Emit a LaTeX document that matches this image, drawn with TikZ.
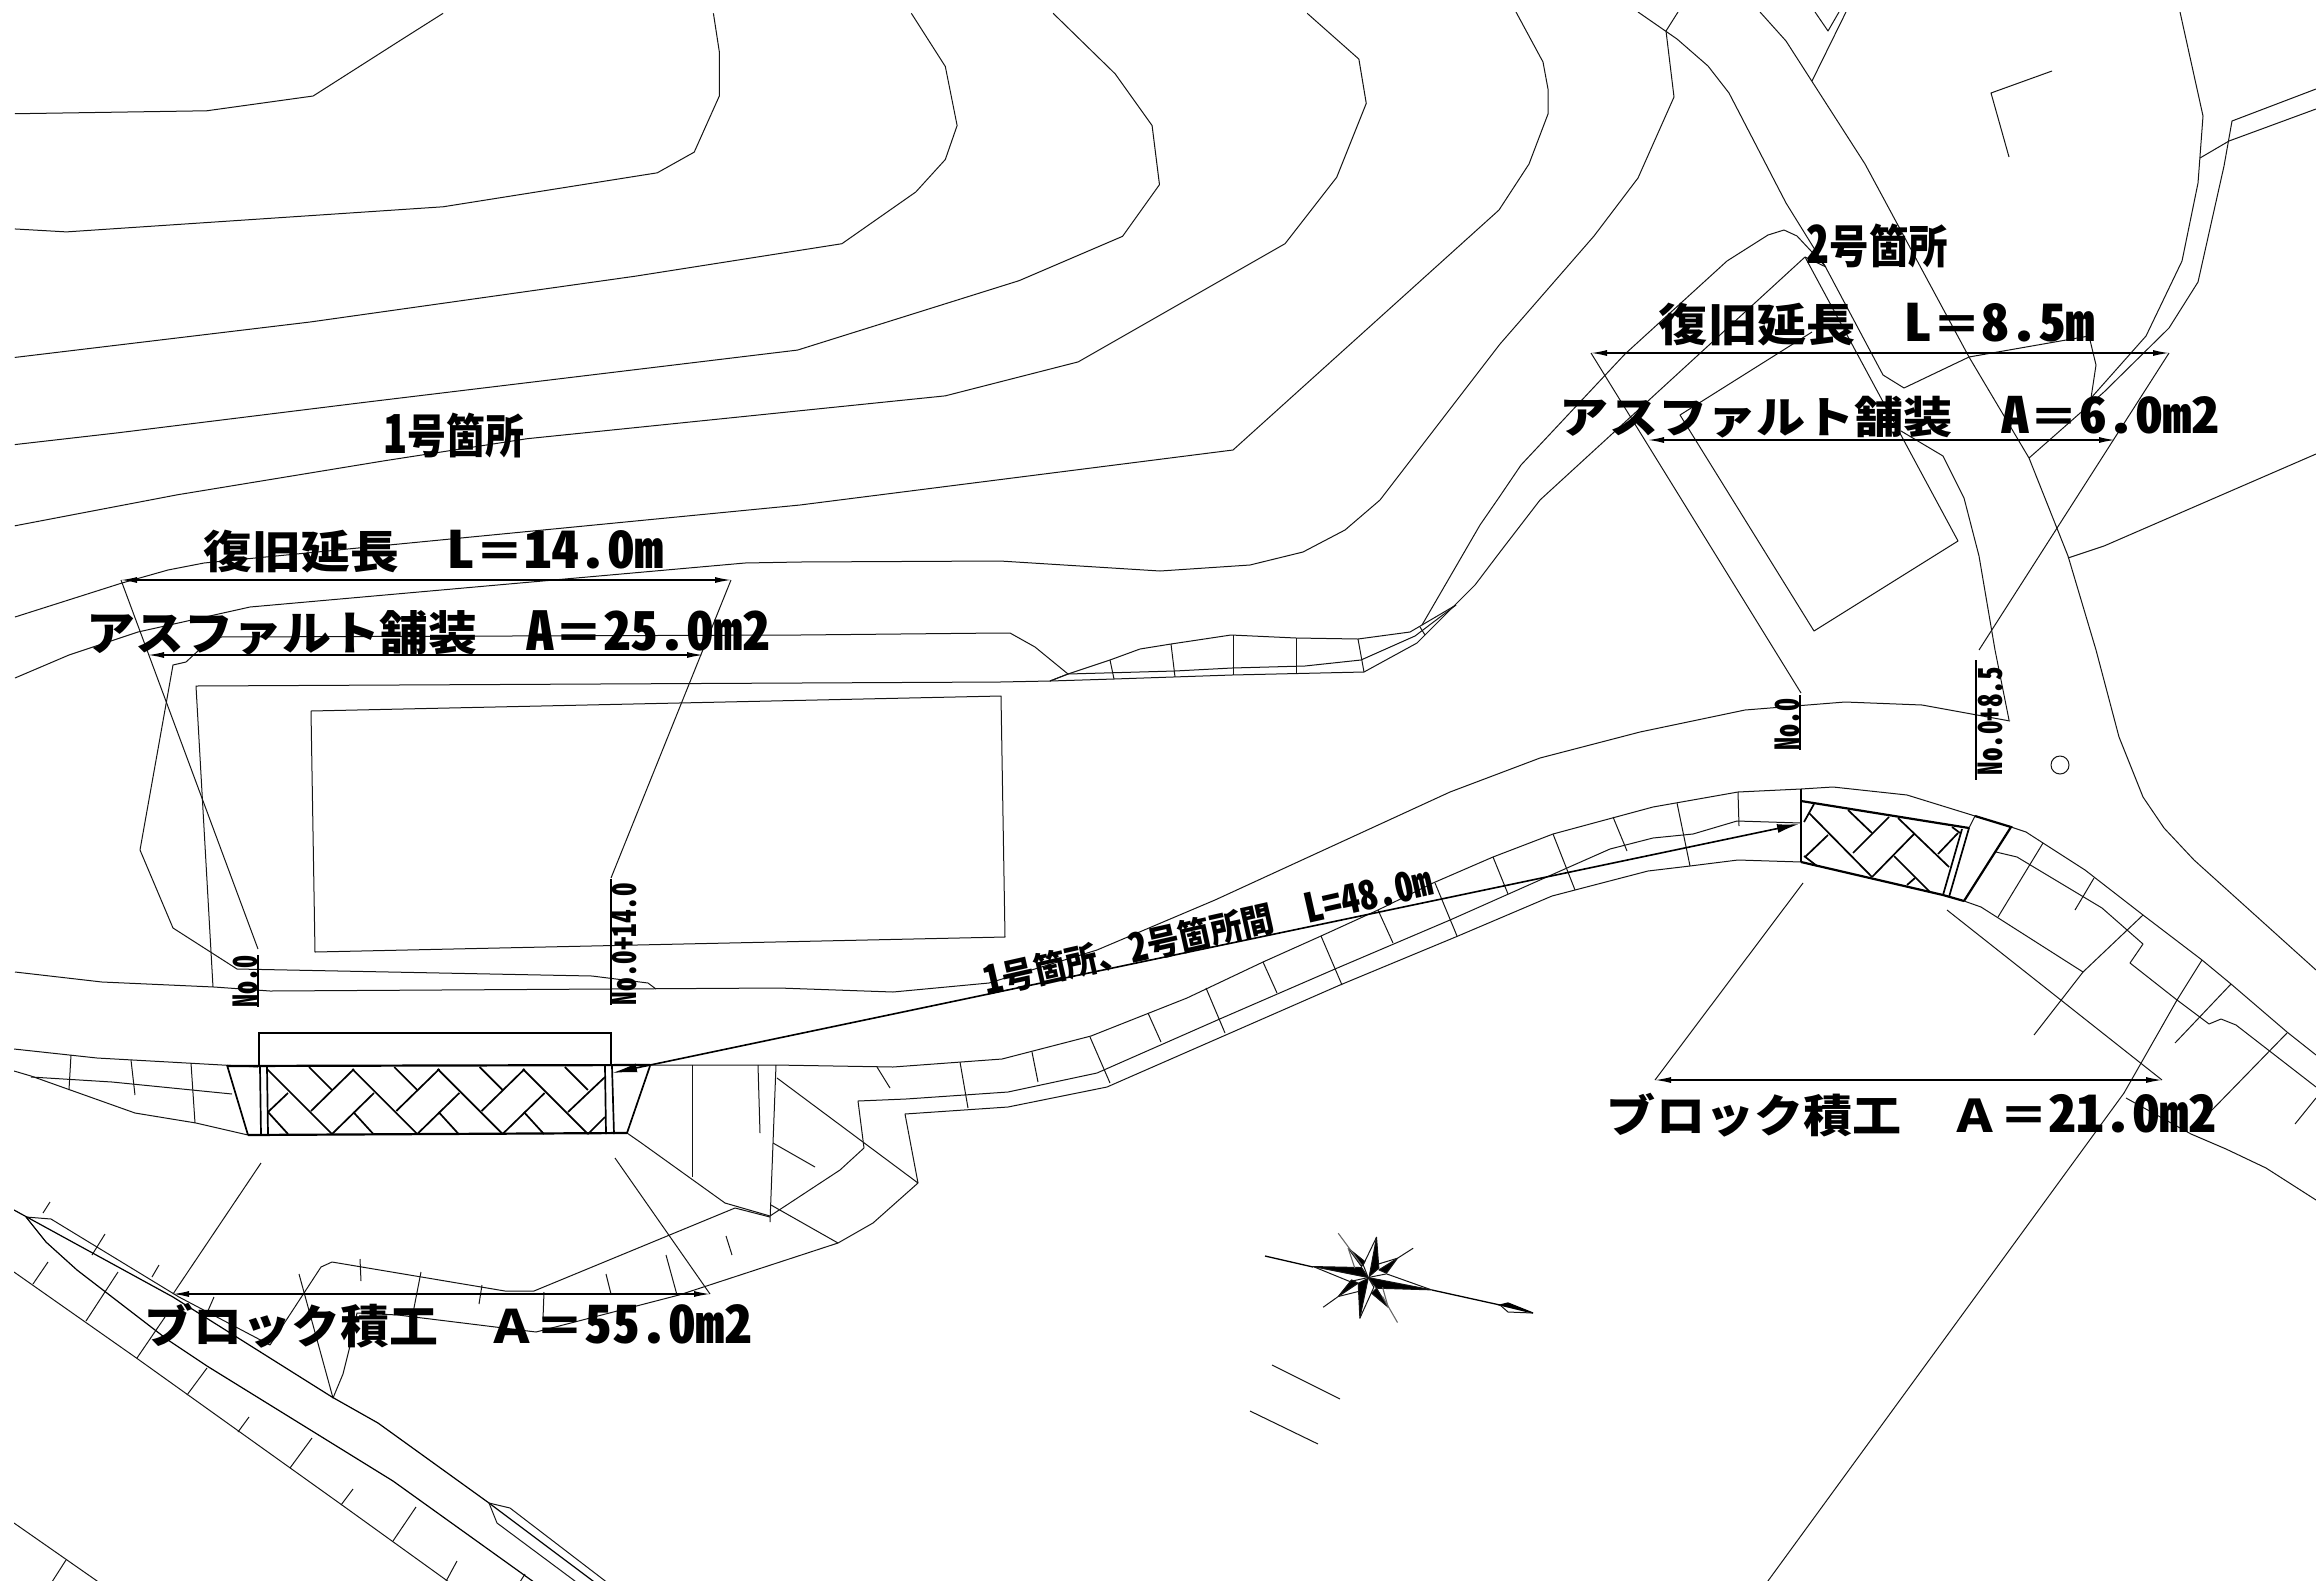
\documentclass[tikz,border=0pt]{standalone}
\usepackage{fontspec}
\usetikzlibrary{arrows.meta}
\newfontfamily\jp{Noto Sans CJK JP}[RawFeature={+hwid},Scale=1.14]
\newfontfamily\jpf{Noto Sans CJK JP}
\newcommand{\fit}[3]{\resizebox*{#1pt}{#2pt}{\bfseries #3}}
\newcommand{\fw}[1]{{\jpf\bfseries #1}}
\newcommand{\hw}[1]{{\jp\bfseries #1}}
\tikzset{
  ln/.style={line width=1pt,black!92,line join=round},
  hv/.style={line width=2.2pt,black,line join=miter},
  md/.style={line width=1.3pt,black},
  ht/.style={line width=1.7pt,black},
  dm/.style={line width=1.3pt,black,{Latex[length=16pt,width=6pt]}-{Latex[length=16pt,width=6pt]}},
  lb/.style={inner sep=0pt,outer sep=0pt,text=black},
  disp/.style={x=1.47704pt,y=-1.47704pt}
}
\begin{document}
\begin{tikzpicture}[x=1pt,y=-1pt]
\useasboundingbox (0,0) rectangle (2316,1585);
\fill[white] (0,0) rectangle (2316,1585);
\begin{scope}
\clip (14,12) rectangle (2316,1580);
% contours (display coordinates)
\begin{scope}[disp]
\draw[ln] (10,77)--(140,75)--(212,65)--(270,28)--(300,9);
\draw[ln] (10,155)--(45,157)--(150,150)--(300,140)--(445,117)--(470,103)--(487,65)--(487,35)--(483,9);
\draw[ln] (10,242)--(210,218)--(430,187)--(570,165)--(620,130)--(640,108)--(648,85)--(640,45)--(617,9);
\draw[ln] (10,301)--(80,293)--(250,272)--(540,237)--(690,190)--(760,160)--(785,125)--(780,85)--(755,50)--(713,9);
\draw[ln] (10,356)--(120,335)--(260,312)--(357,297)--(640,268)--(730,245)--(870,165)--(905,120)--(925,70)--(920,40)--(885,9);
\end{scope}
\draw[ln] (15,617)--(122,583)--(168,570)--(204,563)--(800,505)--(1233,450)--(1499,210)--(1529,164)--(1548,114)--(1548,89)--(1543,62)--(1516,12);
\draw[ln] (15,678)--(69,655)--(138,632)--(250,607)--(745,563)--(800,562)--(1000,561)--(1160,571)--(1250,565)--(1303,552)--(1345,530)--(1380,500)--(1500,344)--(1594,236)--(1638,178)--(1674,97)--(1666,31)--(1678,12);
% site 1 ground lines
\draw[ln] (219,637)--(199,650)--(186,662)--(173,665)--(140,850)--(173,928)--(237,969)--(592,976)--(648,983)--(656,989);
\draw[ln] (219,637)--(800,635)--(1000,633)--(1010,633)--(1035,647)--(1068,674);
\draw[ln] (213,987)--(196,686)--(800,683)--(1000,682)--(1050,681)--(1068,674);
\draw[ln] (1001,696)--(1005,937)--(315,952)--(311,711)--cycle;
% road 1-2 upper edge of carriageway
\draw[ln] (15,972)--(102,982)--(214,987)--(270,991)--(779,988)--(893,992)--(989,983)--(1097,950)--(1215,900)--(1450,792)--(1540,758)--(1640,732)--(1745,710)--(1845,702)--(1922,705)--(2010,721);
% small road at top middle
\draw[ln] (1050,681)--(1068,674)--(1110,660)--(1140,649)--(1171,644)--(1231,635)--(1296,638)--(1358,639)--(1410,632)--(1422,625)--(1456,605);
\draw[ln] (1068,674)--(1175,671)--(1232,668)--(1305,666)--(1361,660)--(1415,636)--(1456,605);
\draw[ln] (1050,681)--(1114,679)--(1232,675)--(1364,672)--(1417,643)--(1475,585)--(1500,552)--(1540,500)--(1805,257)--(1826,267);
\draw[ln] (1422,625)--(1480,525)--(1500,496)--(1521,465)--(1625,354)--(1727,261)--(1768,235)--(1784,230)--(1797,236)--(1825,266)--(1883,375)--(1904,388)--(1969,357)--(2089,336)--(2096,365)--(2091,398);
\foreach \a/\b/\c/\d in {1110/660/1114/679,1171/644/1175/677,1233/635/1233/675,1296/638/1296/673,1358/639/1364/672,1420/627/1425/635}
  \draw[ln] (\a,\b)--(\c,\d);
% top-right lines
\draw[ln] (1638,12)--(1677,39)--(1708,66)--(1729,93)--(1786,203)--(1825,266);
\draw[ln] (1760,12)--(1786,41)--(1865,164)--(1969,357)--(2029,458)--(2068,556)--(2096,650)--(2119,737)--(2143,797)--(2164,828)--(2194,860)--(2316,970);
\draw[ln] (1812,81)--(1846,12);
\draw[ln] (1815,12)--(1828,31)--(1839,12);
\draw[ln] (2052,71)--(1991,93)--(2009,157);
\draw[ln] (2180,12)--(2203,116)--(2198,183)--(2182,261)--(2146,336)--(2091,398);
\draw[ln] (2316,89)--(2232,121)--(2224,166)--(2198,282)--(2169,328)--(2104,392)--(2029,458);
\draw[ln] (2316,109)--(2229,141)--(2200,158);
\draw[ln] (2068,558)--(2104,546)--(2316,454);
% building at site 2
\draw[ln] (1805,257)--(1958,541)--(1814,631)--(1680,415)--(1812,332);
\draw[ln] (1901,431)--(1943,456)--(1964,498)--(1979,556)--(1995,650)--(2009,720);
% upper road edge
\draw[ln] (14,1049)--(97,1058)--(258,1067);
\draw[ln] (650,1065)--(775,1065)--(893,1067)--(1002,1059)--(1091,1036)--(1187,998)--(1263,962)--(1321,936)--(1378,910)--(1433,883)--(1493,857)--(1553,834)--(1653,807)--(1738,792)--(1801,789)--(1833,787)--(1907,795)--(1975,816);
\draw[ln] (2011,827)--(2026,832)--(2043,843)--(2085,870)--(2143,915)--(2202,960)--(2231,984)--(2287,1032)--(2316,1055);
% middle line
\draw[ln] (14,1071)--(31,1076)--(135,1113)--(196,1123)--(248,1135);
\draw[ln] (31,1077)--(112,1082)--(232,1094);
\draw[ln] (627,1133)--(640,1142)--(725,1203)--(770,1216)--(840,1170)--(864,1148)--(858,1101)--(906,1099)--(1008,1092)--(1097,1073)--(1222,1018)--(1335,969)--(1450,920)--(1567,868)--(1610,849)--(1653,838)--(1693,834)--(1737,821)--(1801,823);
% lower line
\draw[ln] (536,1332)--(679,1295)--(838,1243)--(873,1223)--(918,1183)--(905,1114)--(1008,1107)--(1107,1087)--(1340,985)--(1458,936)--(1552,896)--(1575,890)--(1648,871)--(1690,866)--(1738,860)--(1801,862);
\draw[ln] (1996,852)--(2017,857)--(2102,908)--(2143,944)--(2130,963)--(2177,1000)--(2209,1024)--(2221,1019)--(2236,1025)--(2316,1087);
\draw[ln] (1964,901)--(1981,907)--(2083,972);
\draw[ln] (2126,1098)--(2191,1134)--(2226,1149)--(2266,1168)--(2316,1200);
% ticks along road
\foreach \a/\b/\c/\d in {1738/792/1739/826,1677/803/1690/866,1613/817/1627/851,1553/834/1575/890,1493/857/1508/894,1435/883/1457/936,1378/910/1393/943,1321/936/1342/985,1263/962/1277/993,1206/988/1225/1033,1148/1013/1161/1042,1090/1037/1110/1083,1032/1052/1038/1082,960/1062/968/1108,877/1067/890/1088,692/1065/692/1177,758/1065/760/1133,776/1065/770/1222,773/1143/815/1167,777/1078/918/1183,771/1205/838/1243,726/1236/732/1255,666/1255/677/1295,71/1055/69/1090,131/1060/135/1095,191/1063/195/1123,360/1259/361/1281,421/1272/413/1313,482/1285/479/1304,544/1292/543/1319,606/1274/611/1294,50/1202/43/1213,105/1234/92/1255,159/1265/152/1277,48/1262/33/1284,118/1272/86/1321,214/1297/207/1313,165/1317/137/1358,207/1368/187/1395,249/1417/238/1432,312/1438/290/1468,353/1489/341/1505,416/1507/393/1541,457/1561/444/1585,525/1574/518/1585,66/1560/50/1585,2143/915/2083/972,2083/972/2034/1035,2231/984/2175/1043,2094/878/2075/910,2043/843/1998/917,2287/1033/2211/1111,2316/1098/2295/1124,2202/960/2177/1000,2177/1000/2124/1093,2124/1093/1765/1585,1975/816/1969/828}
  \draw[ln] (\a,\b)--(\c,\d);
% south road
\draw[ln] (26,1217)--(51,1219)--(179,1297)--(270,1345)--(321,1267)--(332,1262)--(505,1291)--(534,1291)--(735,1208)--(770,1217);
\draw[ln] (299,1274)--(333,1398)--(343,1374)--(352,1338)--(357,1313)--(398,1315)--(536,1332);
\draw[line width=1.2pt,black] (14,1210)--(173,1297)--(332,1397)--(378,1423)--(489,1503)--(605,1590);
\draw[ln] (489,1503)--(510,1508)--(617,1590);
\draw[ln] (489,1503)--(497,1523)--(587,1590);
\draw[line width=1.2pt,black] (26,1217)--(46,1242)--(77,1270)--(168,1340)--(207,1366)--(393,1481)--(545,1590);
\draw[ln] (14,1272)--(135,1357)--(342,1505)--(460,1590);
\draw[ln] (14,1523)--(110,1590);
% block 1
\draw[md,line width=1.6pt] (259,1066)--(259,1033)--(611,1033)--(611,1066);
\draw[hv] (227,1066)--(650,1065);
\draw[hv] (248,1135)--(627,1133);
\draw[ht] (227,1065)--(248,1135);
\draw[ht] (650,1066)--(627,1133);
\draw[ht] (260,1067)--(261,1135);
\draw[ht] (267,1067)--(268,1134);
\draw[ht] (605,1066)--(606,1134);
\draw[ht] (612,1066)--(614,1134);
\foreach \k in {0,1,2,3}{
  \pgfmathsetmacro{\o}{85.3*\k}
  \draw[ht] ({267+\o},1069)--({332+\o},1134);
  \draw[ht] ({309+\o},1067)--({332+\o},1090);
  \draw[ht] ({268+\o},1112)--({288+\o},1134);
}
\foreach \k in {0,1,2}{
  \pgfmathsetmacro{\o}{85.3*\k}
  \draw[ht] ({311+\o},1111)--({354+\o},1069);
  \draw[ht] ({332+\o},1134)--({374+\o},1093);
}
\draw[ht] (268,1112)--(288,1093);
\draw[ht] (568,1112)--(605,1077);
\draw[ht] (588,1134)--(605,1117);
% block 2
\draw[hv] (1801,789)--(1801,862);
\draw[hv] (1801,801)--(1969,828);
\draw[hv] (1801,862)--(1943,895)--(1964,901);
\draw[ht] (1943,895)--(1962,829);
\draw[ht] (1949,897)--(1969,828);
\draw[hv] (1975,816)--(2011,827)--(1964,901);
\foreach \a/\b/\c/\d in {1809/813/1872/877,1848/810/1872/833,1804/856/1817/866,1804/822/1814/804,1805/857/1828/835,1853/853/1889/817,1872/877/1914/834,1898/818/1949/867,1894/856/1930/892,1907/885/1915/878,1938/854/1958/833,1952/827/1960/833}
  \draw[ht] (\a,\b)--(\c,\d);
% dimension lines
\draw[dm] (121,580)--(731,580);
\draw[ln] (121,580)--(258,949);
\draw[ln] (731,580)--(611,878);
\draw[dm] (148,655)--(703,655);
\draw[dm] (173,1294)--(710,1294);
\draw[ln] (261,1163)--(173,1294);
\draw[ln] (615,1158)--(710,1294);
\draw[dm] (1591,353)--(2169,353);
\draw[ln] (1591,353)--(1801,693);
\draw[ln] (2169,353)--(1979,650);
\draw[dm] (1648,440)--(2115,440);
\draw[dm] (1655,1080)--(2162,1080);
\draw[ln] (1803,883)--(1655,1080);
\draw[ln] (1947,910)--(2162,1080);
\draw[line width=1.6pt,black,{Latex[length=25pt,width=9pt]}-{Latex[length=22pt,width=9pt]}] (612,1073)--(1799,824);
% station lines
\draw[md] (258,955)--(258,1007);
\draw[md] (611,879)--(611,1005);
\draw[md] (1800,695)--(1800,750);
\draw[md] (1976,660)--(1976,780);
\draw[ln] (2060,765) circle (9);
% compass
\draw[ln] (1272,1365)--(1340,1399);
\draw[ln] (1250,1411)--(1318,1444);
\draw[md] (1265,1256)--(1313,1267);
\draw[md] (1432,1290)--(1500,1305);
\draw[md,fill=black] (1500,1305)--(1508,1303)--(1533,1313)--cycle;
\draw[ln] (1500,1305)--(1508,1312)--(1533,1313);
\begin{scope}[x=0.3333pt,y=-0.3333pt,shift={(3690,3600)}]
\draw[ln,fill=black] (250,200)--(395,203)--(415,233)--cycle;
\draw[ln] (250,200)--(360,245)--(415,233);
\draw[ln,fill=black] (605,270)--(415,233)--(440,265)--cycle;
\draw[ln] (605,270)--(470,222)--(415,233);
\draw[ln,fill=black] (440,112)--(447,205)--(418,230)--cycle;
\draw[ln] (440,112)--(400,195)--(415,233);
\draw[ln,fill=black] (390,355)--(385,250)--(415,235)--cycle;
\draw[ln] (390,355)--(432,262)--(415,233);
\draw[ln,fill=black] (355,145)--(405,185)--(395,200)--cycle;
\draw[ln,fill=black] (503,175)--(447,210)--(470,220)--cycle;
\draw[ln,fill=black] (475,322)--(425,280)--(440,265)--cycle;
\draw[ln,fill=black] (325,290)--(385,250)--(365,240)--cycle;
\draw[ln,black!60,line width=1.1pt] (325,100)--(395,195);
\draw[ln,black!60,line width=1.1pt] (355,145)--(375,205);
\draw[ln] (550,145)--(503,175)--(447,192);
\draw[ln,black!60,line width=1.1pt] (503,368)--(458,290);
\draw[ln,black!60,line width=1.1pt] (475,322)--(458,262);
\draw[ln] (280,322)--(325,290)--(385,275);
\end{scope}
\end{scope}
% labels
\node[lb] (t1) at (454.5,435.5) {\fit{139}{45}{\hw{1}\fw{号箇所}}};
\node[lb] (t2) at (433.5,551.5) {\fit{459}{43}{\fw{復旧延長　}\hw{L}\fw{＝}\hw{14.0m}}};
\node[lb] (t3) at (428.5,632.5) {\fit{683}{45}{\fw{アスファルト舗装　}\hw{A}\fw{＝}\hw{25.0m2}}};
\node[lb] (t4) at (448.5,1325.5) {\fit{607}{45}{\fw{ブロック積工　Ａ＝}\hw{55.0m2}}};
\node[lb] (t5) at (1877.5,246) {\fit{141}{44}{\hw{2}\fw{号箇所}}};
\node[lb] (t6) at (1876.5,324.5) {\fit{435}{43}{\fw{復旧延長　}\hw{L}\fw{＝}\hw{8.5m}}};
\node[lb] (t7) at (1889.5,417) {\fit{659}{42}{\fw{アスファルト舗装　}\hw{A}\fw{＝}\hw{6.0m2}}};
\node[lb] (t8) at (1911.5,1115) {\fit{609}{44}{\fw{ブロック積工　Ａ＝}\hw{21.0m2}}};
\node[lb,rotate=12.7] (t9) at (1208,932) {\fit{458}{34}{\hw{1}\fw{号箇所、}\hw{2}\fw{号箇所間　}\hw{L=48.0m}}};
\node[lb,rotate=90] (t10) at (245,981) {\fit{52}{25}{\hw{No.0}}};
\node[lb,rotate=90] (t11) at (624.5,944) {\fit{122}{25}{\hw{No.0+14.0}}};
\node[lb,rotate=90] (t12) at (1787,724) {\fit{52}{25}{\hw{No.0}}};
\node[lb,rotate=90] (t13) at (1990,721) {\fit{108}{25}{\hw{No.0+8.5}}};
\end{tikzpicture}
\end{document}
